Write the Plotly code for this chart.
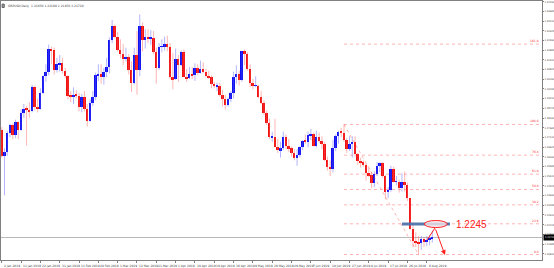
import plotly.graph_objects as go
import pandas as pd

# ---------------- data (GBPUSD daily) ----------------
DATES = list(pd.bdate_range("2019-01-01", "2019-08-08"))

OPEN = [
    1.2750, 1.2755, 1.2615, 1.2635, 1.2740, 1.2780, 1.2725, 1.2795, 1.2755, 1.2845, 1.2870, 1.2865,
    1.2855, 1.2985, 1.2880, 1.2870, 1.2955, 1.3045, 1.3070, 1.3195, 1.3185, 1.3080, 1.3110,
    1.3115, 1.3075, 1.3045, 1.2940, 1.2935, 1.2945, 1.2940, 1.2880, 1.2935, 1.2870, 1.2805, 1.2900,
    1.2935, 1.3050, 1.3055, 1.3040, 1.3070, 1.3095, 1.3240, 1.3315,
    1.3260, 1.3190, 1.3165, 1.3140, 1.3150, 1.3080, 1.3010, 1.3160, 1.3080, 1.3320, 1.3240, 1.3260,
    1.3250, 1.3255, 1.3175, 1.3090, 1.3205, 1.3205, 1.3220, 1.3205, 1.3040,
    1.3030, 1.3140, 1.3105, 1.3175, 1.3040, 1.3035, 1.3060, 1.3050, 1.3090, 1.3065, 1.3085, 1.3070,
    1.3045, 1.3040, 1.3005, 1.2990, 1.2995, 1.2945, 1.2920, 1.2890, 1.2920, 1.2955,
    1.3040, 1.3055, 1.3025, 1.3180, 1.3165, 1.3085, 1.3010, 1.2995, 1.2995, 1.2935, 1.2900, 1.2845,
    1.2790, 1.2715, 1.2715, 1.2660, 1.2645, 1.2655, 1.2715, 1.2665, 1.2655, 1.2630, 1.2600,
    1.2620, 1.2660, 1.2695, 1.2690, 1.2725, 1.2735, 1.2670, 1.2715, 1.2695, 1.2680, 1.2590, 1.2555,
    1.2545, 1.2655, 1.2720, 1.2745, 1.2740, 1.2700, 1.2650, 1.2680,
    1.2690, 1.2625, 1.2585, 1.2580, 1.2565, 1.2520, 1.2510, 1.2465, 1.2515, 1.2560, 1.2575, 1.2505,
    1.2420, 1.2430, 1.2545, 1.2475, 1.2475, 1.2440, 1.2470, 1.2455, 1.2385, 1.2220, 1.2155,
    1.2145, 1.2140, 1.2165, 1.2150, 1.2160, 1.2165,
]
HIGH = [
    1.2790, 1.2770, 1.2655, 1.2750, 1.2788, 1.2790, 1.2810, 1.2800, 1.2865, 1.2895, 1.2885, 1.2905,
    1.3000, 1.2995, 1.2925, 1.2980, 1.3050, 1.3110, 1.3217, 1.3205, 1.3200, 1.3145, 1.3160,
    1.3145, 1.3090, 1.3050, 1.2965, 1.2985, 1.2970, 1.2955, 1.2950, 1.2965, 1.2895, 1.2920, 1.2965,
    1.3065, 1.3110, 1.3110, 1.3090, 1.3145, 1.3255, 1.3350, 1.3325,
    1.3285, 1.3245, 1.3220, 1.3200, 1.3165, 1.3125, 1.3200, 1.3290, 1.3380, 1.3335, 1.3300, 1.3300,
    1.3295, 1.3290, 1.3200, 1.3225, 1.3245, 1.3260, 1.3265, 1.3225, 1.3170,
    1.3195, 1.3160, 1.3185, 1.3190, 1.3085, 1.3095, 1.3095, 1.3115, 1.3110, 1.3130, 1.3120, 1.3085,
    1.3075, 1.3050, 1.3015, 1.3010, 1.3010, 1.2970, 1.2945, 1.2930, 1.2965, 1.3070,
    1.3105, 1.3075, 1.3180, 1.3190, 1.3175, 1.3110, 1.3030, 1.3045, 1.3000, 1.2965, 1.2915, 1.2860,
    1.2815, 1.2745, 1.2815, 1.2705, 1.2690, 1.2745, 1.2730, 1.2705, 1.2665, 1.2650, 1.2650,
    1.2665, 1.2700, 1.2730, 1.2745, 1.2760, 1.2740, 1.2750, 1.2740, 1.2720, 1.2690, 1.2610, 1.2590,
    1.2700, 1.2730, 1.2750, 1.2765, 1.2784, 1.2710, 1.2720, 1.2720,
    1.2720, 1.2630, 1.2605, 1.2590, 1.2575, 1.2550, 1.2525, 1.2530, 1.2580, 1.2580, 1.2580, 1.2510,
    1.2445, 1.2560, 1.2555, 1.2505, 1.2485, 1.2520, 1.2530, 1.2470, 1.2385, 1.2250, 1.2200,
    1.2180, 1.2180, 1.2175, 1.2180, 1.2185, 1.2210,
]
LOW = [
    1.2716, 1.2605, 1.2400, 1.2615, 1.2715, 1.2705, 1.2710, 1.2705, 1.2750, 1.2820, 1.2670, 1.2820,
    1.2850, 1.2860, 1.2850, 1.2865, 1.2950, 1.3015, 1.3050, 1.3110, 1.3055, 1.3065, 1.3070,
    1.3060, 1.3035, 1.2920, 1.2905, 1.2895, 1.2925, 1.2855, 1.2850, 1.2855, 1.2773, 1.2800, 1.2885,
    1.2915, 1.3020, 1.3005, 1.3000, 1.3040, 1.3060, 1.3225, 1.3250,
    1.3180, 1.3145, 1.3105, 1.3125, 1.3055, 1.2960, 1.3000, 1.2945, 1.3045, 1.3180, 1.3195, 1.3225,
    1.3215, 1.3165, 1.3005, 1.3080, 1.3175, 1.3185, 1.3180, 1.3030, 1.2975,
    1.3025, 1.3015, 1.3100, 1.3040, 1.3015, 1.3030, 1.3030, 1.3020, 1.3050, 1.3060, 1.3060, 1.3040,
    1.3030, 1.2980, 1.2980, 1.2965, 1.2935, 1.2880, 1.2865, 1.2880, 1.2905, 1.2925,
    1.3005, 1.2995, 1.3015, 1.3105, 1.3075, 1.2985, 1.2975, 1.2985, 1.2925, 1.2895, 1.2835, 1.2780,
    1.2705, 1.2690, 1.2660, 1.2630, 1.2605, 1.2645, 1.2650, 1.2635, 1.2610, 1.2590, 1.2560,
    1.2605, 1.2645, 1.2680, 1.2660, 1.2700, 1.2665, 1.2660, 1.2685, 1.2650, 1.2585, 1.2535, 1.2505,
    1.2525, 1.2640, 1.2680, 1.2715, 1.2690, 1.2630, 1.2640, 1.2605,
    1.2610, 1.2565, 1.2550, 1.2555, 1.2480, 1.2500, 1.2440, 1.2445, 1.2505, 1.2525, 1.2495, 1.2380,
    1.2385, 1.2420, 1.2470, 1.2455, 1.2415, 1.2420, 1.2420, 1.2370, 1.2215, 1.2120, 1.2120,
    1.2080, 1.2105, 1.2120, 1.2125, 1.2130, 1.2145,
]
CLOSE = [
    1.2755, 1.2615, 1.2635, 1.2740, 1.2780, 1.2725, 1.2795, 1.2755, 1.2845, 1.2870, 1.2865, 1.2855,
    1.2985, 1.2880, 1.2870, 1.2955, 1.3045, 1.3070, 1.3195, 1.3185, 1.3080, 1.3110, 1.3115,
    1.3075, 1.3045, 1.2940, 1.2935, 1.2945, 1.2940, 1.2880, 1.2935, 1.2870, 1.2805, 1.2900, 1.2935,
    1.3050, 1.3055, 1.3040, 1.3070, 1.3095, 1.3240, 1.3315, 1.3260,
    1.3190, 1.3165, 1.3140, 1.3150, 1.3080, 1.3010, 1.3160, 1.3080, 1.3320, 1.3240, 1.3260, 1.3250,
    1.3255, 1.3175, 1.3090, 1.3205, 1.3205, 1.3220, 1.3205, 1.3040, 1.3030,
    1.3140, 1.3105, 1.3175, 1.3040, 1.3035, 1.3060, 1.3050, 1.3090, 1.3065, 1.3085, 1.3070, 1.3045,
    1.3040, 1.3005, 1.2990, 1.2995, 1.2945, 1.2920, 1.2890, 1.2920, 1.2955, 1.3040,
    1.3055, 1.3025, 1.3180, 1.3165, 1.3085, 1.3010, 1.2995, 1.2995, 1.2935, 1.2900, 1.2845, 1.2790,
    1.2715, 1.2715, 1.2660, 1.2645, 1.2655, 1.2715, 1.2665, 1.2655, 1.2630, 1.2600, 1.2620,
    1.2660, 1.2695, 1.2690, 1.2725, 1.2735, 1.2670, 1.2715, 1.2695, 1.2680, 1.2590, 1.2555, 1.2545,
    1.2655, 1.2720, 1.2745, 1.2740, 1.2700, 1.2650, 1.2680, 1.2690,
    1.2625, 1.2585, 1.2580, 1.2565, 1.2520, 1.2510, 1.2465, 1.2515, 1.2560, 1.2575, 1.2505, 1.2420,
    1.2430, 1.2545, 1.2475, 1.2475, 1.2440, 1.2470, 1.2455, 1.2385, 1.2220, 1.2155, 1.2145,
    1.2140, 1.2165, 1.2150, 1.2160, 1.2165, 1.2172,
]

FIB_LEVELS = [0.0, 23.6, 38.2, 50.0, 61.8, 76.4, 100.0, 161.8]
TARGET_LEVEL = 1.2245
TARGET_TEXT = "1.2245"
SYMBOL = "GBPUSD,Daily"
Y_TICKS = [1.34490, 1.33965, 1.33440, 1.32915, 1.32390, 1.31865, 1.31340, 1.30815, 1.30290,
           1.29765, 1.29240, 1.28715, 1.28190, 1.27665, 1.27140, 1.26615, 1.26090, 1.25565,
           1.25040, 1.24515, 1.23990, 1.23465, 1.22940, 1.22415, 1.21890, 1.21365, 1.20840]
DATE_TICK_EVERY = 7
FIB_SWING_START = "2019-06-17"   # fib drawn from the June swing high to the August low

# ---------------- derived ----------------
N = len(DATES)
X = list(range(N))
XMIN, XMAX = 0.73, 196.74
YMIN, YMAX = 1.20502, 1.34527

start = next(i for i, d in enumerate(DATES) if d >= pd.Timestamp(FIB_SWING_START))
i_hi = max(range(start, N), key=lambda i: HIGH[i])
i_lo = min(range(i_hi, N), key=lambda i: LOW[i])
FIB_LOW, FIB_HIGH = LOW[i_lo], HIGH[i_hi]

BULL = "#1010f0"
BEAR = "#f01010"
BULL_W = "rgba(90,90,255,0.45)"
BEAR_W = "rgba(255,90,90,0.45)"
FIB_C = "rgba(255,40,40,0.35)"
SMALL = dict(family="DejaVu Sans", size=3, color="#404040")

fig = go.Figure()

for up, col in ((True, BULL_W), (False, BEAR_W)):
    xs, ys = [], []
    for i in X:
        if (CLOSE[i] >= OPEN[i]) == up:
            xs += [i, i, None]
            ys += [LOW[i], HIGH[i], None]
    fig.add_trace(go.Scatter(x=xs, y=ys, mode="lines", line=dict(color=col, width=1),
                             hoverinfo="skip", showlegend=False))

fig.add_trace(go.Bar(
    x=X,
    base=[min(o, c) for o, c in zip(OPEN, CLOSE)],
    y=[max(abs(c - o), 0.00025) for o, c in zip(OPEN, CLOSE)],
    width=0.72,
    marker=dict(color=[BULL if c >= o else BEAR for o, c in zip(OPEN, CLOSE)], line=dict(width=0)),
    showlegend=False,
))

shapes = []
annotations = []

# current price line
shapes.append(dict(type="line", xref="x", yref="y", x0=XMIN, x1=XMAX, y0=CLOSE[-1], y1=CLOSE[-1],
                   line=dict(color="#b8b8b8", width=1), layer="below"))
annotations.append(dict(xref="paper", yref="y", x=1, y=CLOSE[-1], xanchor="left", yanchor="middle",
                        text=f"{CLOSE[-1]:.5f}", showarrow=False, bgcolor="#000000",
                        font=dict(family="DejaVu Sans", size=2.4, color="#ffffff"), xshift=1,
                        borderpad=1))

# fibonacci retracement
for lv in FIB_LEVELS:
    p = FIB_LOW + (FIB_HIGH - FIB_LOW) * lv / 100.0
    shapes.append(dict(type="line", xref="x", yref="y", x0=i_hi, x1=XMAX, y0=p, y1=p,
                       line=dict(color=FIB_C, width=1, dash="dot")))
    annotations.append(dict(xref="x", yref="y", x=XMAX - 0.3, y=p, xanchor="right", yanchor="bottom",
                            text=f"{lv:.1f}", showarrow=False,
                            font=dict(family="DejaVu Sans", size=3, color="#ff3030"), yshift=-1))
shapes.append(dict(type="line", xref="x", yref="y", x0=i_hi, x1=i_lo, y0=FIB_HIGH, y1=FIB_LOW,
                   line=dict(color=FIB_C, width=1, dash="dot")))

# analyst drawing: level, ellipse, arrow
shapes.append(dict(type="line", xref="x", yref="y", x0=146.0, x1=163.4, y0=TARGET_LEVEL, y1=TARGET_LEVEL,
                   line=dict(color="rgba(70,110,170,0.9)", width=3)))
shapes.append(dict(type="circle", xref="x", yref="y", x0=154.1, x1=162.4,
                   y0=TARGET_LEVEL - 0.0019, y1=TARGET_LEVEL + 0.0019,
                   line=dict(color="#ff2020", width=1), fillcolor="rgba(255,235,235,0.75)"))
ARROW_X = [155.1, 158.0, 161.6]
ARROW_Y = [1.2159, 1.2224, 1.2077]
fig.add_trace(go.Scatter(x=ARROW_X[:2], y=ARROW_Y[:2], mode="lines",
                         line=dict(color="#ff2020", width=1), hoverinfo="skip", showlegend=False))
annotations.append(dict(xref="x", yref="y", axref="x", ayref="y", x=ARROW_X[2], y=ARROW_Y[2],
                        ax=ARROW_X[1], ay=ARROW_Y[1], text="", showarrow=True, arrowhead=2,
                        arrowsize=1, arrowwidth=1, arrowcolor="#ff2020"))
annotations.append(dict(xref="x", yref="y", x=164.9, y=TARGET_LEVEL, xanchor="left", yanchor="middle",
                        text=TARGET_TEXT, showarrow=False,
                        font=dict(family="Liberation Sans", size=10, color="#ff2020")))

# date labels
date_idx = list(range(1, N, DATE_TICK_EVERY))
for i in date_idx:
    d = DATES[i]
    annotations.append(dict(xref="x", yref="paper", x=i, y=0, xanchor="left", yanchor="top",
                            text=f"{d.day} {d.strftime('%b')} {d.year}", showarrow=False,
                            font=SMALL, yshift=-1.5))

# header
annotations.append(dict(xref="paper", yref="paper", x=0, y=1, xanchor="left", yanchor="top",
                        text=f"{SYMBOL}  {OPEN[-1]:.5f} {HIGH[-1]:.5f} {LOW[-1]:.5f} {CLOSE[-1]:.5f}",
                        showarrow=False, font=SMALL, xshift=5, yshift=-1))
shapes.append(dict(type="rect", xref="paper", yref="paper", x0=0.002, x1=0.006, y0=0.975, y1=0.988,
                   line=dict(color="#606060", width=1), fillcolor="#a0a0a0"))

fig.update_layout(
    width=554, height=268,
    margin=dict(l=1, r=12, t=1, b=8, pad=0),
    paper_bgcolor="#ffffff", plot_bgcolor="#ffffff",
    template="none",
    showlegend=False,
    bargap=0,
    shapes=shapes,
    annotations=annotations,
    xaxis=dict(range=[XMIN, XMAX], showgrid=False, zeroline=False, showline=True, mirror=True,
               linecolor="#808080", linewidth=1, tickvals=date_idx, showticklabels=False,
               ticks="outside", ticklen=2, tickcolor="#808080", automargin=False, fixedrange=True),
    yaxis=dict(range=[YMIN, YMAX], side="right", showgrid=False, zeroline=False, showline=True,
               mirror=True, linecolor="#808080", linewidth=1, tickvals=Y_TICKS,
               ticktext=[f"{v:.5f}" for v in Y_TICKS], ticks="outside", ticklen=1,
               tickcolor="#808080", tickfont=dict(family="DejaVu Sans", size=2.4, color="#404040"),
               automargin=False, fixedrange=True),
)

fig.write_html("out.html")
